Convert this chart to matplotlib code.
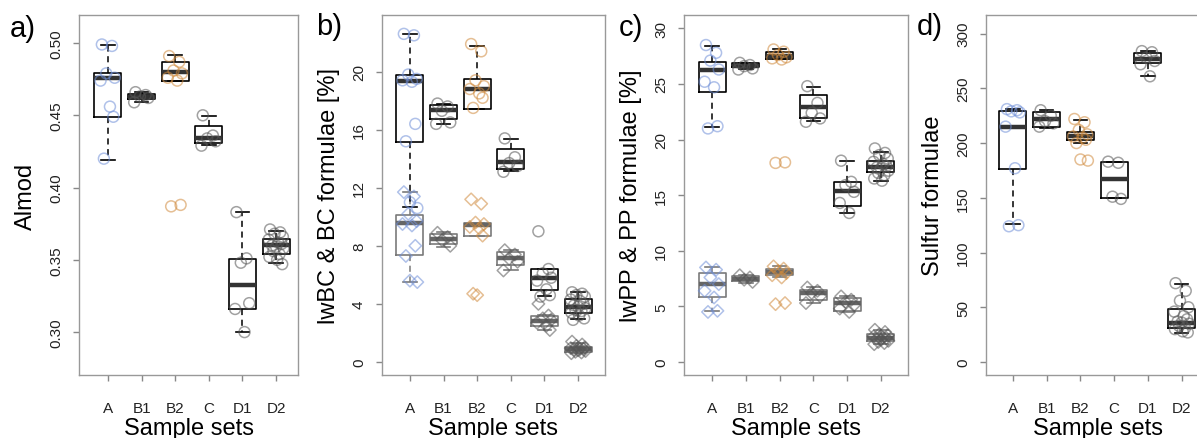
import matplotlib
matplotlib.use("Agg")
import matplotlib.pyplot as plt
import numpy as np

plt.rcParams['font.family'] = ['Liberation Sans', 'DejaVu Sans']

groups = ["A", "B1", "B2", "C", "D1", "D2"]

# a) Almod
a_q1 = [0.4486, 0.4615, 0.4740, 0.4309, 0.3161, 0.3537]
a_med = [0.4758, 0.4630, 0.4800, 0.4340, 0.3327, 0.3600]
a_q3 = [0.4790, 0.4645, 0.4866, 0.4429, 0.3507, 0.3645]
a_lo = [0.4190, 0.4590, 0.4740, 0.4295, 0.3000, 0.3479]
a_hi = [0.4986, 0.4660, 0.4917, 0.4498, 0.3830, 0.3698]
a_pts = [[0.499, 0.498, 0.479, 0.476, 0.474, 0.456, 0.449, 0.420],
         [0.466, 0.464, 0.463, 0.462, 0.459],
         [0.491, 0.487, 0.481, 0.479, 0.476, 0.474, 0.388, 0.387],
         [0.450, 0.436, 0.434, 0.432, 0.429],
         [0.383, 0.351, 0.348, 0.320, 0.316, 0.300],
         [0.371, 0.369, 0.368, 0.366, 0.364, 0.362, 0.361, 0.360, 0.359,
          0.358, 0.356, 0.354, 0.352, 0.350, 0.347]]

# b) BC formulae (circles) and lwBC (diamonds)
b_up_q1 = [15.15, 16.77, 17.41, 13.28, 4.94, 3.40]
b_up_med = [19.33, 17.34, 18.83, 13.78, 5.75, 3.80]
b_up_q3 = [19.75, 17.68, 19.47, 14.66, 6.39, 4.32]
b_up_lo = [10.64, 16.42, 17.41, 13.17, 4.55, 2.94]
b_up_hi = [22.60, 17.75, 21.77, 15.34, 6.40, 4.83]
b_up_pts = [[22.6, 22.5, 19.8, 19.5, 19.4, 19.3, 16.4, 15.2, 11.0, 10.6],
            [17.8, 17.6, 17.3, 16.5, 16.4],
            [21.9, 21.4, 19.4, 19.0, 18.8, 18.5, 18.2, 17.5],
            [15.4, 14.1, 13.7, 13.5, 13.1],
            [9.0, 6.4, 6.1, 5.8, 5.6, 5.0, 4.6, 4.5],
            [4.8, 4.7, 4.6, 4.5, 4.3, 4.2, 4.0, 3.9, 3.8, 3.7, 3.6, 3.5,
             3.4, 3.2, 3.0, 2.9]]
b_lw_q1 = [7.35, 8.11, 8.69, 6.67, 2.45, 0.69]
b_lw_med = [9.60, 8.46, 9.40, 7.13, 2.85, 0.87]
b_lw_q3 = [10.10, 8.80, 9.56, 7.54, 3.17, 1.05]
b_lw_lo = [5.50, 7.95, 8.69, 6.30, 2.20, 0.60]
b_lw_hi = [11.72, 8.95, 9.60, 7.70, 3.20, 1.30]
b_lw_pts = [[11.7, 11.4, 10.2, 9.7, 9.5, 9.4, 8.0, 7.3, 5.6, 5.5],
            [8.9, 8.6, 8.4, 8.0],
            [11.2, 10.9, 9.6, 9.5, 9.3, 9.2, 8.7, 4.7, 4.6],
            [7.7, 7.4, 7.1, 6.9, 6.3],
            [4.0, 3.2, 3.0, 2.9, 2.7, 2.5, 2.2],
            [1.4, 1.2, 1.1, 1.0, 0.95, 0.9, 0.88, 0.85, 0.8, 0.75, 0.7,
             0.65, 0.6]]

# c) PP formulae (circles) and lwPP (diamonds)
c_up_q1 = [24.24, 26.50, 27.24, 21.90, 14.04, 17.04]
c_up_med = [26.25, 26.64, 27.48, 22.90, 15.39, 17.49]
c_up_q3 = [27.00, 26.85, 27.84, 24.00, 16.20, 18.09]
c_up_lo = [21.15, 26.30, 27.20, 21.70, 13.44, 16.29]
c_up_hi = [28.38, 26.90, 28.14, 24.70, 18.10, 18.90]
c_up_pts = [[28.5, 27.8, 27.1, 26.3, 25.2, 24.7, 21.2, 21.0],
            [26.9, 26.7, 26.6, 26.4, 26.3],
            [28.1, 27.9, 27.6, 27.4, 27.3, 27.2, 17.95, 17.9],
            [24.8, 23.3, 22.4, 21.9, 21.6],
            [18.1, 16.2, 15.9, 15.3, 14.3, 13.4],
            [19.2, 18.8, 18.6, 18.3, 18.0, 17.8, 17.6, 17.5, 17.4, 17.2,
             17.0, 16.8, 16.5, 16.3]]
c_lw_q1 = [5.85, 7.25, 7.85, 5.60, 4.57, 1.90]
c_lw_med = [7.00, 7.50, 8.10, 6.20, 5.30, 2.20]
c_lw_q3 = [8.00, 7.76, 8.36, 6.50, 5.76, 2.50]
c_lw_lo = [4.57, 7.10, 7.60, 5.30, 4.50, 1.60]
c_lw_hi = [8.50, 7.80, 8.60, 6.70, 5.90, 2.90]
c_lw_pts = [[8.5, 8.3, 7.6, 7.0, 6.4, 5.8, 4.6, 4.5],
            [7.8, 7.6, 7.4, 7.2],
            [8.6, 8.4, 8.2, 8.0, 7.8, 7.6, 5.3, 5.2],
            [6.7, 6.4, 6.2, 5.9, 5.3],
            [5.9, 5.6, 5.4, 5.1, 4.8, 4.5],
            [2.9, 2.7, 2.5, 2.4, 2.3, 2.2, 2.15, 2.1, 2.0, 1.9, 1.8, 1.7, 1.6]]

# d) Sulfur formulae
d_q1 = [176.2, 214.9, 203.0, 149.7, 273.2, 31.4]
d_med = [214.3, 222.0, 206.0, 167.0, 277.0, 36.0]
d_q3 = [229.3, 228.0, 210.4, 183.0, 282.3, 48.8]
d_lo = [125.9, 214.0, 200.0, 149.7, 261.0, 26.8]
d_hi = [231.0, 230.0, 221.3, 183.0, 284.0, 71.6]
d_pts = [[231, 230, 229, 228, 215, 177, 125, 124],
         [230, 225, 220, 218, 215],
         [222, 219, 212, 208, 206, 205, 203, 200, 185, 184],
         [183, 182, 151, 149],
         [284, 283, 278, 275, 272, 261],
         [72, 65, 56, 50, 46, 42, 39, 37, 36, 35, 33, 31, 30, 28, 27]]

point_colors = ["#6f8fd8", "#555555", "#d08a3c", "#555555", "#555555", "#555555"]
jit = [-0.18, 0.12, -0.05, 0.20, -0.22, 0.06, 0.16, -0.12, 0.0, 0.22,
       -0.08, 0.10, -0.20, 0.03, 0.18, -0.15]

W, H = 1197, 439
fig = plt.figure(figsize=(W / 100, H / 100), dpi=100)


def make_ax(left, right, top=16, bottom=376):
    return fig.add_axes([left / W, (H - bottom) / H, (right - left) / W, (bottom - top) / H])


def boxes(ax, q1, med, q3, lo, hi, edge, medc):
    stats = [dict(q1=q1[i], med=med[i], q3=q3[i], whislo=lo[i], whishi=hi[i], fliers=[])
             for i in range(len(groups))]
    ax.bxp(stats, positions=range(1, 7), widths=0.8, showfliers=False,
           boxprops=dict(color=edge, lw=1.2),
           medianprops=dict(color=medc, lw=3.2, solid_capstyle='butt'),
           whiskerprops=dict(color=edge, lw=1.1, linestyle=(0, (4, 3))),
           capprops=dict(color=edge, lw=1.2), capwidths=0.4,
           manage_ticks=False, zorder=2)


def points(ax, pts, marker, size):
    for i, vals in enumerate(pts):
        xs = [i + 1 + jit[k % len(jit)] for k in range(len(vals))]
        ax.scatter(xs, vals, marker=marker, s=size, facecolors='none',
                   edgecolors=point_colors[i], linewidths=1.1, alpha=0.55, zorder=3)


def style(ax, ylabel, yticks, ylim, fmt, width_px):
    ax.set_xlim(0.17, 6.8)
    ax.set_ylim(*ylim)
    ax.set_xticks(range(1, 7))
    ax.set_xticklabels(groups)
    ax.set_yticks(yticks)
    ax.set_yticklabels([fmt.format(t) for t in yticks])
    for s in ax.spines.values():
        s.set_color('#999999')
        s.set_linewidth(1.0)
    ax.tick_params(axis='both', direction='out', length=4.5, width=1, color='#888888',
                   labelsize=11, labelcolor='#222222')
    ax.tick_params(axis='x', pad=14)
    ax.tick_params(axis='y', labelrotation=90, pad=7)
    for lab in ax.get_yticklabels():
        lab.set_va('center')
    ax.set_ylabel(ylabel, fontsize=17)
    ax.yaxis.set_label_coords(-42 / width_px, 0.5)
    ax.set_xlabel("Sample sets", fontsize=17)
    ax.xaxis.set_label_coords(0.5, -0.118)


# panel a
ax = make_ax(79, 298)
boxes(ax, a_q1, a_med, a_q3, a_lo, a_hi, 'black', '#333333')
points(ax, a_pts, 'o', 62)
style(ax, "Almod", [0.30, 0.35, 0.40, 0.45, 0.50], (0.2703, 0.5194), "{:.2f}", 219)
ax.set_xlim(0.14, 6.65)

# panel b
ax = make_ax(382, 605)
boxes(ax, b_lw_q1, b_lw_med, b_lw_q3, b_lw_lo, b_lw_hi, '#7a7a7a', '#666666')
boxes(ax, b_up_q1, b_up_med, b_up_q3, b_up_lo, b_up_hi, 'black', '#333333')
points(ax, b_up_pts, 'o', 62)
points(ax, b_lw_pts, 'D', 40)
style(ax, "lwBC & BC formulae [%]", [0, 4, 8, 12, 16, 20], (-0.9, 23.9), "{:d}", 223)

# panel c
ax = make_ax(684, 908)
boxes(ax, c_lw_q1, c_lw_med, c_lw_q3, c_lw_lo, c_lw_hi, '#7a7a7a', '#666666')
boxes(ax, c_up_q1, c_up_med, c_up_q3, c_up_lo, c_up_hi, 'black', '#333333')
points(ax, c_up_pts, 'o', 62)
points(ax, c_lw_pts, 'D', 40)
style(ax, "lwPP & PP formulae [%]", [0, 5, 10, 15, 20, 25, 30], (-1.17, 31.2), "{:d}", 224)

# panel d
ax = make_ax(986, 1210)
boxes(ax, d_q1, d_med, d_q3, d_lo, d_hi, 'black', '#333333')
points(ax, d_pts, 'o', 62)
style(ax, "Sulfur formulae", [0, 50, 100, 150, 200, 250, 300], (-11.9, 317), "{:d}", 224)
ax.set_xlim(0.2, 6.84)

for lbl, x, y in [("a)", 10, 29), ("b)", 316, 27), ("c)", 619, 28), ("d)", 917, 27)]:
    fig.text(x / W, 1 - y / H, lbl, fontsize=21, ha='left', va='center')

fig.savefig("out.png", dpi=100)
